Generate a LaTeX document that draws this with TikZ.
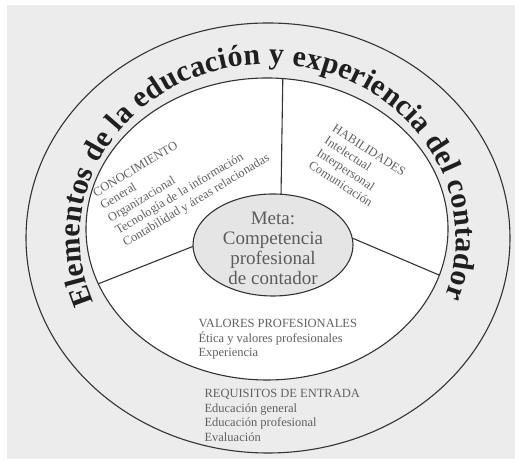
\documentclass[tikz,border=0pt]{standalone}
\usepackage{fontspec}
\setmainfont{Liberation Serif}
\usetikzlibrary{shapes.geometric,decorations.text}
\definecolor{paper}{gray}{0.925}
\definecolor{goal}{gray}{0.9}
\definecolor{ink}{gray}{0.2}
\definecolor{print}{gray}{0.38}
\tikzset{
    disk/.style={ellipse,draw=ink,inner sep=0pt,outer sep=0pt},
    list/.style={align=left,inner sep=0pt,text=print,font=\fontsize{12.5}{14.5}\selectfont}
}
\begin{document}
\begin{tikzpicture}[x=1pt,y=1pt,line width=1.1pt]
    \useasboundingbox (0,0) rectangle (515,462);
    %% Background
    \fill[paper] (7,3) rectangle (515,457);
    %% Outer ring and inner disk
    \node[disk,fill=paper,minimum width=484pt,minimum height=430pt] (O) at (268,224) {};
    \node[disk,fill=white,minimum width=362pt,minimum height=302pt] (I) at (267,233) {};
    %% Goal in the middle
    \node[disk,fill=goal,minimum width=160pt,minimum height=102pt] (M) at (273,217) {};
    \node[align=center,inner sep=0pt,text=ink!80,font=\fontsize{19}{20}\selectfont] (T) at (273,214)
        {Meta:\\Competencia\\profesional\\de contador};
    %% Three sectors
    \draw[ink] (M.81) -- (I.84.7);
    \draw[ink] (M.181.4) -- (I.198.5);
    \draw[ink] (M.5.7) -- (I.345.4);
    %% Title along the ring
    \path[decorate,decoration={text along path,text align=fit to path,text color=ink!60!black,
        text={|\fontsize{30}{32}\selectfont\bfseries|Elementos de la educación y experiencia del contador}}]
        (268,224) ++(201.9:188 and 174) arc[start angle=201.9,end angle=-19.8,x radius=188,y radius=174];
    %% Sector texts
    \node[list,rotate=31,anchor=north west] (C) at (91,272)
        {CONOCIMIENTO\\General\\Organizacional\\Tecnología de la información\\Contabilidad y áreas relacionadas};
    \node[list,rotate=-33,anchor=north west] (H) at (336,339)
        {HABILIDADES\\Intelectual\\Interpersonal\\Comunicación};
    \node[list,anchor=north west] (V) at (198,143)
        {VALORES PROFESIONALES\\Ética y valores profesionales\\Experiencia};
    %% Entry requirements in the ring
    \node[list,anchor=north west] (R) at (204,73)
        {REQUISITOS DE ENTRADA\\Educación general\\Educación profesional\\Evaluación};
\end{tikzpicture}
\end{document}
